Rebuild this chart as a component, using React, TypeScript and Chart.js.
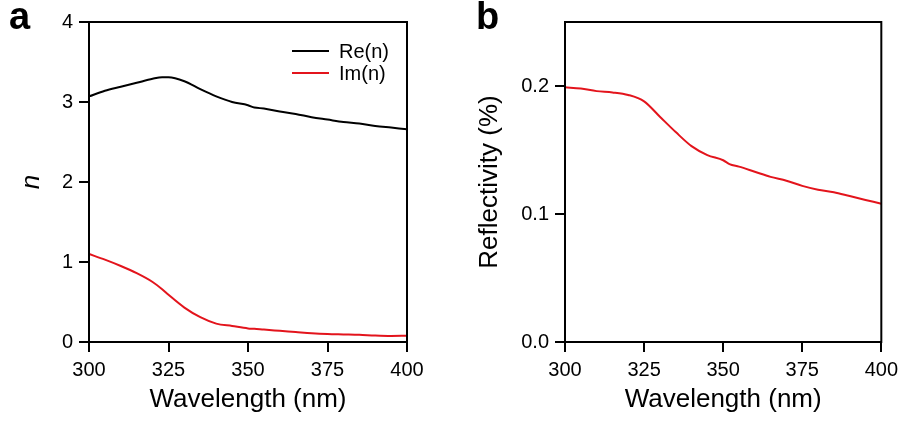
import React, { useEffect, useRef } from "react";
import { Chart, registerables } from "chart.js";

Chart.register(...registerables);

const wavelengthN = [300, 305, 310, 315, 320, 323, 325, 330, 335, 340, 345, 350, 352, 355, 360, 365, 370, 375, 380, 385, 390, 395, 400];
const reN = [3.07, 3.14, 3.19, 3.24, 3.29, 3.31, 3.31, 3.26, 3.16, 3.07, 3.00, 2.96, 2.93, 2.92, 2.88, 2.85, 2.81, 2.78, 2.75, 2.73, 2.70, 2.68, 2.66];
const imN = [1.10, 1.03, 0.95, 0.86, 0.75, 0.66, 0.59, 0.43, 0.31, 0.23, 0.20, 0.17, 0.165, 0.155, 0.14, 0.125, 0.11, 0.10, 0.095, 0.09, 0.08, 0.075, 0.078];

const wavelengthR = [300, 305, 310, 315, 320, 325, 330, 335, 340, 345, 350, 352, 355, 360, 365, 370, 375, 380, 385, 390, 395, 400];
const reflectivity = [0.199, 0.198, 0.196, 0.195, 0.193, 0.188, 0.176, 0.164, 0.153, 0.146, 0.142, 0.139, 0.137, 0.133, 0.129, 0.126, 0.122, 0.119, 0.117, 0.114, 0.111, 0.108];

const xTicks = [300, 325, 350, 375, 400];
const yTicksA = [0, 1, 2, 3, 4];
const yTicksB = [0, 0.1, 0.2];

const FONT = "Arial, 'Liberation Sans', sans-serif";
const RED = "#e3141c";
const BLACK = "#000000";

const boxPlugin = {
  id: "box",
  afterDraw(chart: any) {
    const { ctx, chartArea } = chart;
    ctx.save();
    ctx.strokeStyle = BLACK;
    ctx.lineWidth = 2;
    ctx.strokeRect(chartArea.left, chartArea.top, chartArea.right - chartArea.left, chartArea.bottom - chartArea.top);
    ctx.restore();
  },
};

const legendPlugin = {
  id: "customLegend",
  afterDraw(chart: any, _args: any, opts: any) {
    if (!opts || !opts.show) return;
    const { ctx } = chart;
    ctx.save();
    ctx.font = `20px ${FONT}`;
    ctx.textBaseline = "middle";
    ctx.textAlign = "left";
    chart.data.datasets.forEach((ds: any, i: number) => {
      const y = opts.y + i * opts.spacing;
      ctx.strokeStyle = ds.borderColor;
      ctx.lineWidth = 2;
      ctx.beginPath();
      ctx.moveTo(opts.x, y);
      ctx.lineTo(opts.x + opts.lineLen, y);
      ctx.stroke();
      ctx.fillStyle = BLACK;
      ctx.fillText(ds.label, opts.x + opts.lineLen + 10, y + 1);
    });
    ctx.restore();
  },
};

function makeOptions(yMin: number, yMax: number, yTicks: number[], yTitle: string, italic: boolean, yWidth: number, rightPad: number, titlePad: number, decimals: number, legend: any) {
  return {
    responsive: false,
    animation: false,
    layout: { padding: { top: 22, right: rightPad, bottom: 0, left: 0 } },
    plugins: {
      legend: { display: false },
      tooltip: { enabled: false },
      customLegend: legend,
    },
    elements: { point: { radius: 0 }, line: { borderWidth: 2, cubicInterpolationMode: "monotone" } },
    scales: {
      x: {
        type: "linear",
        min: 300,
        max: 400,
        afterBuildTicks: (s: any) => { s.ticks = xTicks.map((v) => ({ value: v })); },
        afterFit: (s: any) => { s.height = 83; },
        ticks: { color: BLACK, font: { family: FONT, size: 20 }, padding: 6, maxRotation: 0, autoSkip: false, callback: (v: any) => String(v) },
        grid: { display: true, drawOnChartArea: false, drawTicks: true, tickLength: 10, color: BLACK, lineWidth: 2 },
        border: { display: true, color: BLACK, width: 2 },
        title: { display: true, text: "Wavelength (nm)", color: BLACK, font: { family: FONT, size: 26 }, padding: { top: 0, bottom: 10 } },
      },
      y: {
        type: "linear",
        min: yMin,
        max: yMax,
        afterBuildTicks: (s: any) => { s.ticks = yTicks.map((v) => ({ value: v })); },
        afterFit: (s: any) => { s.width = yWidth; },
        ticks: { color: BLACK, font: { family: FONT, size: 20 }, padding: 6, callback: (v: any) => Number(v).toFixed(decimals) },
        grid: { display: true, drawOnChartArea: false, drawTicks: true, tickLength: 10, color: BLACK, lineWidth: 2 },
        border: { display: true, color: BLACK, width: 2 },
        title: { display: true, text: yTitle, color: BLACK, font: { family: FONT, size: 26, style: italic ? "italic" : "normal" }, padding: { top: titlePad, bottom: 0 } },
      },
    },
  };
}

function PanelA() {
  const ref = useRef<HTMLCanvasElement>(null);
  useEffect(() => {
    const chart = new Chart(ref.current as HTMLCanvasElement, {
      type: "line",
      data: {
        datasets: [
          { label: "Re(n)", data: wavelengthN.map((x, i) => ({ x, y: reN[i] })), borderColor: BLACK, backgroundColor: BLACK, fill: false },
          { label: "Im(n)", data: wavelengthN.map((x, i) => ({ x, y: imN[i] })), borderColor: RED, backgroundColor: RED, fill: false },
        ],
      },
      options: makeOptions(0, 4, yTicksA, "n", true, 89, 45, 16, 0, { show: true, x: 292, y: 51, spacing: 22, lineLen: 37 }) as any,
      plugins: [boxPlugin, legendPlugin],
    });
    return () => chart.destroy();
  }, []);
  return <canvas ref={ref} width={452} height={425} style={{ position: "absolute", left: 0, top: 0 }} />;
}

function PanelB() {
  const ref = useRef<HTMLCanvasElement>(null);
  useEffect(() => {
    const chart = new Chart(ref.current as HTMLCanvasElement, {
      type: "line",
      data: {
        datasets: [
          { label: "Reflectivity", data: wavelengthR.map((x, i) => ({ x, y: reflectivity[i] })), borderColor: RED, backgroundColor: RED, fill: false },
        ],
      },
      options: makeOptions(0, 0.25, yTicksB, "Reflectivity (%)", false, 113, 21, 22, 1, { show: false }) as any,
      plugins: [boxPlugin, legendPlugin],
    });
    return () => chart.destroy();
  }, []);
  return <canvas ref={ref} width={452} height={425} style={{ position: "absolute", left: 452, top: 0 }} />;
}

export default function App() {
  const letter: React.CSSProperties = { position: "absolute", fontFamily: FONT, fontWeight: "bold", fontSize: 38, lineHeight: "38px", color: BLACK };
  return (
    <div style={{ position: "fixed", left: 0, top: 0, width: 904, height: 425, background: "#fff" }}>
      <PanelA />
      <PanelB />
      <div style={{ ...letter, left: 9, top: -3 }}>a</div>
      <div style={{ ...letter, left: 476, top: -3 }}>b</div>
    </div>
  );
}
